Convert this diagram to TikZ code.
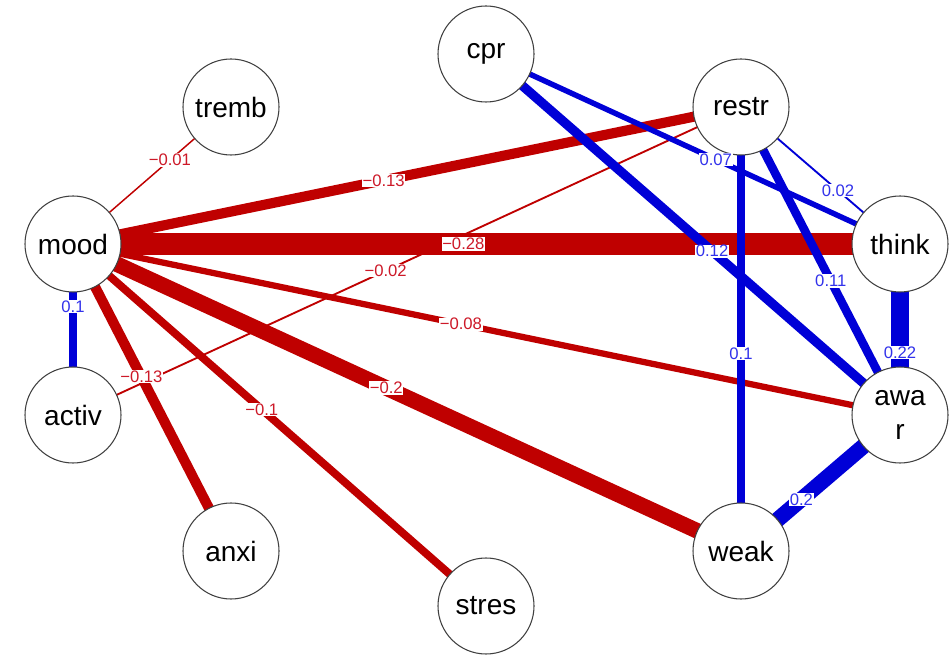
\documentclass[tikz,border=0pt]{standalone}
\usepackage{fontspec}
\setmainfont{Liberation Sans}
\usetikzlibrary{backgrounds}
\definecolor{negcol}{RGB}{191,0,0}
\definecolor{poscol}{RGB}{0,0,215}
\definecolor{neglab}{RGB}{205,25,40}
\definecolor{poslab}{RGB}{50,50,235}
\begin{document}
\begin{tikzpicture}[x=0.75pt,y=-0.75pt,
  vnode/.style={circle,draw=black!75,line width=0.8pt,fill=white,minimum size=72pt,inner sep=0pt,font=\fontsize{21}{25}\selectfont,align=center},
  negedge/.style={draw=negcol,line width=#1},
  posedge/.style={draw=poscol,line width=#1},
  lbl/.style={fill=white,inner sep=0.5pt,font=\fontsize{12.5}{13}\selectfont},
  nlbl/.style={lbl,text=neglab},
  plbl/.style={lbl,text=poslab}]
\useasboundingbox (0,0) rectangle (949,655);
% nodes
\node[vnode] (mood)  at (73,244)  {mood};
\node[vnode] (tremb) at (231,107) {tremb};
\node[vnode] (cpr)   at (486,54)  {cpr};
\node[vnode] (restr) at (741,107) {restr};
\node[vnode] (think) at (900,244) {think};
\node[vnode] (awar)  at (900,415) {awa\\r};
\node[vnode] (weak)  at (741,551) {weak};
\node[vnode] (stres) at (486,606) {stres};
\node[vnode] (anxi)  at (231,551) {anxi};
\node[vnode] (activ) at (73,415)  {activ};
% edges
\begin{pgfonlayer}{background}
\draw[negedge=1.1pt]  (mood.center) -- (tremb.center);
\draw[negedge=7.6pt]  (mood.center) -- (restr.center);
\draw[negedge=16.5pt] (mood.center) -- (think.center);
\draw[negedge=4.7pt]  (mood.center) -- (awar.center);
\draw[negedge=11.7pt] (mood.center) -- (weak.center);
\draw[negedge=5.9pt]  (mood.center) -- (stres.center);
\draw[negedge=7.6pt]  (mood.center) -- (anxi.center);
\draw[posedge=5.9pt]  (mood.center) -- (activ.center);
\draw[negedge=1.4pt]  (activ.center) -- (restr.center);
\draw[posedge=4.1pt]  (cpr.center) -- (think.center);
\draw[posedge=7pt]    (cpr.center) -- (awar.center);
\draw[posedge=1.4pt]  (restr.center) -- (think.center);
\draw[posedge=6.4pt]  (restr.center) -- (awar.center);
\draw[posedge=5.9pt]  (restr.center) -- (weak.center);
\draw[posedge=12.8pt] (think.center) -- (awar.center);
\draw[posedge=11.7pt] (awar.center) -- (weak.center);
\end{pgfonlayer}
% labels
\path (mood.center) -- (tremb.center) node[nlbl,pos=0.613] (l1) {−0.01};
\path (mood.center) -- (restr.center) node[nlbl,pos=0.465] (l2) {−0.13};
\path (mood.center) -- (think.center) node[nlbl,pos=0.472] (l3) {−0.28};
\path (mood.center) -- (awar.center) node[nlbl,pos=0.469] (l4) {−0.08};
\path (mood.center) -- (weak.center) node[nlbl,pos=0.469] (l5) {−0.2};
\path (mood.center) -- (stres.center) node[nlbl,pos=0.457] (l6) {−0.1};
\path (mood.center) -- (anxi.center) node[nlbl,pos=0.433] (l7) {−0.13};
\path (mood.center) -- (activ.center) node[plbl,pos=0.368] (l8) {0.1};
\path (activ.center) -- (restr.center) node[nlbl,pos=0.468] (l9) {−0.02};
\path (cpr.center) -- (think.center) node[plbl,pos=0.555] (l10) {0.07};
\path (cpr.center) -- (awar.center) node[plbl,pos=0.546] (l11) {0.12};
\path (restr.center) -- (think.center) node[plbl,pos=0.61] (l12) {0.02};
\path (restr.center) -- (awar.center) node[plbl,pos=0.565] (l13) {0.11};
\path (restr.center) -- (weak.center) node[plbl,pos=0.556] (l14) {0.1};
\path (think.center) -- (awar.center) node[plbl,pos=0.637] (l15) {0.22};
\path (awar.center) -- (weak.center) node[plbl,pos=0.62] (l16) {0.2};
\end{tikzpicture}
\end{document}
